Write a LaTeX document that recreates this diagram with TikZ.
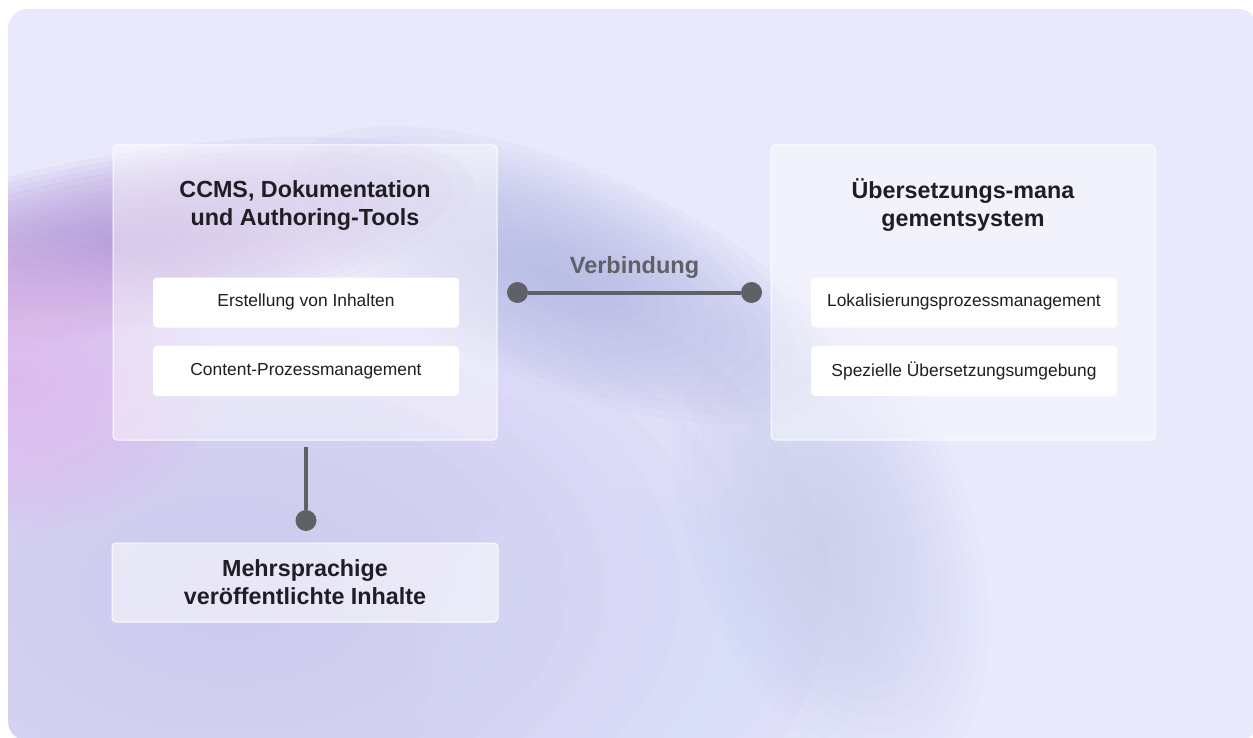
\documentclass[tikz,border=0pt]{standalone}
\usepackage{fontspec}
\setmainfont{Liberation Sans}
\usetikzlibrary{positioning,calc}
\definecolor{bgbase}{HTML}{E9E9FC}
\definecolor{lilac}{HTML}{C9C5EF}
\definecolor{plum}{HTML}{B599D9}
\definecolor{blush}{HTML}{E4BAEF}
\definecolor{dusk}{HTML}{B3B8E4}
\definecolor{haze}{HTML}{C3C9EB}
\definecolor{mist}{HTML}{D8DEF8}
\definecolor{ink}{HTML}{1E1E24}
\definecolor{wire}{HTML}{606067}

\begin{document}
\begin{tikzpicture}[x=1pt, y=-1pt,
    panel/.style={draw=white, draw opacity=0.9, line width=1pt, fill=white, fill opacity=0.45,
      text opacity=1, rounded corners=4pt, minimum width=384pt, minimum height=295pt},
    ttl/.style={font=\fontsize{23.3}{28}\selectfont\bfseries, text=ink, align=center},
    item/.style={fill=white, rounded corners=4pt, minimum width=306pt, minimum height=50pt,
      font=\fontsize{17.4}{20}\selectfont, text=ink},
    dot/.style={circle, fill=wire, inner sep=0pt, minimum size=21pt},
    link/.style={draw=wire, line width=4pt},
    lbl/.style={font=\fontsize{23.5}{28}\selectfont\bfseries, text=wire}]
  \useasboundingbox (0,0) rectangle (1253,738);
  \begin{scope}
    \clip[rounded corners=20pt] (8,9) rectangle (1258,741);
    \fill[bgbase] (0,0) rectangle (1260,745);
    \foreach \c/\cx/\cy/\rx/\ry/\a/\o in {lilac/230/590/600/380/0/0.09, mist/650/650/250/170/0/0.09,
        haze/830/530/140/260/20/0.06, dusk/560/275/290/110/-22/0.09, plum/120/245/360/90/10/0.11,
        blush/15/380/200/150/0/0.1}
      \foreach \k in {1,...,16}
        \fill[\c, opacity=\o, rotate around={\a:(\cx,\cy)}] (\cx,\cy) ellipse ({\rx*\k/16} and {\ry*\k/16});
  \end{scope}

  \node (ccms) [panel] at (305,292.5) {};
  \node (ccmsttl) [ttl] at ($(ccms.north)+(0,61)$) {CCMS, Dokumentation\\und Authoring-Tools};
  \node (erst) [item] at ($(ccms.north)+(1,158)$) {Erstellung von Inhalten};
  \node (cproz) [item, below=18pt of erst] {Content-Prozessmanagement};

  \node (tms) [panel] at (963,292.5) {};
  \node (tmsttl) [ttl] at ($(tms.north)+(0,61)$) {Übersetzungs-mana\\gementsystem};
  \node (lokal) [item] at ($(tms.north)+(1,158)$) {Lokalisierungsprozessmanagement};
  \node (umgeb) [item, below=18pt of lokal] {Spezielle Übersetzungsumgebung};

  \node (multi) [panel, fill opacity=0.55, minimum width=386pt, minimum height=79pt, ttl] at (305,582.5)
    {Mehrsprachige\\veröffentlichte Inhalte};

  \node (dotl) [dot] at ($(ccms.east)+(20,0)$) {};
  \node (dotr) [dot] at ($(tms.west)+(-19,0)$) {};
  \draw[link] (dotl) -- (dotr);
  \node (verb) [lbl] at ($(dotl)!0.5!(dotr)+(0,-25)$) {Verbindung};

  \coordinate (drop) at ($(ccms.south)+(1,6)$);
  \node (dotb) [dot] at ($(multi.north)+(1,-22)$) {};
  \draw[link] (drop) -- (dotb);
\end{tikzpicture}
\end{document}
